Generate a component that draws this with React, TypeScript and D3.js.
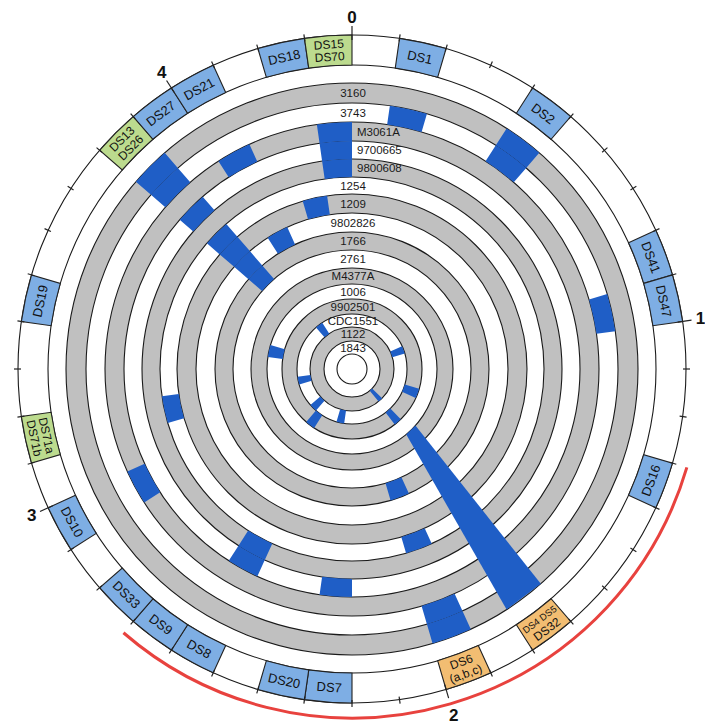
import React from "react";
import * as d3 from "d3";

const W = 705;
const H = 726;
const CX = 352;
const CY = 369;

// genome axis (Mb), 0.1 Mb bins
const GENOME_MB = 4.4;
const BIN_MB = 0.1;
const majorTicks = [0, 1, 2, 3, 4];

// strains, outer ring to inner ring
const strains = [
  "3160", "3743", "M3061A", "9700665", "9800608", "1254", "1209", "9802826",
  "1766", "2761", "M4377A", "1006", "9902501", "CDC1551", "1122", "1843",
];
// outer radius of each ring (last value = central hole)
const ringEdges = [286, 266, 247, 228, 210, 192, 175, 156, 137, 119, 101, 85, 70, 55, 42, 28, 15];

// DS regions on the outer band (start Mb of bin)
const dsStart = [0.1, 0.4, 0.8, 0.9, 1.3, 1.7, 1.9, 2.2, 2.3, 2.5, 2.6, 2.7, 2.9, 3.1, 3.4, 3.8, 3.9, 4.0, 4.2, 4.3];
const dsNames = [
  ["DS1"], ["DS2"], ["DS41"], ["DS47"], ["DS16"], ["DS4 DS5", "DS32"], ["DS6", "(a,b,c)"],
  ["DS7"], ["DS20"], ["DS8"], ["DS9"], ["DS33"], ["DS10"], ["DS71a", "DS71b"], ["DS19"],
  ["DS13", "DS26"], ["DS27"], ["DS21"], ["DS18"], ["DS15", "DS70"],
];
const dsGroup = [
  "blue", "blue", "blue", "blue", "blue", "orange", "orange", "blue", "blue", "blue",
  "blue", "blue", "blue", "green", "blue", "green", "blue", "blue", "blue", "green",
];

// deletions: strain, start Mb, end Mb
const deletions: [string, number, number][] = [
  ["3743", 0.1, 0.2],
  ["M3061A", 4.3, 4.4], ["9700665", 4.3, 4.4], ["9800608", 4.3, 4.4],
  ["3160", 0.4, 0.5], ["3743", 0.4, 0.5],
  ["3160", 3.8, 3.9], ["3743", 3.8, 3.9],
  ["M3061A", 4.0, 4.1],
  ["9700665", 3.8, 3.9],
  ["1254", 3.8, 3.9], ["1209", 3.8, 3.9], ["9802826", 3.8, 3.9], ["1766", 3.8, 3.9],
  ["3743", 0.9, 1.0],
  ["1209", 4.2, 4.3],
  ["9802826", 4.0, 4.1],
  ["1254", 3.1, 3.2],
  ["M3061A", 2.9, 3.0],
  ["9800608", 2.5, 2.6], ["9700665", 2.5, 2.6],
  ["9700665", 2.2, 2.3],
  ["1766", 1.9, 2.0], ["1254", 1.9, 2.0], ["3160", 1.9, 2.0], ["3743", 1.9, 2.0],
  ["CDC1551", 3.9, 4.0], ["CDC1551", 0.8, 0.9], ["CDC1551", 3.1, 3.2],
  ["CDC1551", 2.7, 2.8], ["CDC1551", 2.3, 2.4],
  ["1006", 3.4, 3.5],
  ["9902501", 1.3, 1.4], ["9902501", 2.6, 2.7], ["9902501", 1.66, 1.74],
  ["1122", 1.64, 1.72],
];

// slanted deletion crossing rings M4377A .. 3160
const wedgeStrains = ["M4377A", "3160"];
const wedgeInnerMb = [1.61, 1.715];
const wedgeOuterMb = [1.695, 1.8];

// highlighted region
const redArcMb = [1.3, 2.7];

const COLORS: Record<string, string> = {
  blue: "#7eaee4",
  green: "#bcdb8e",
  orange: "#f2bd72",
};

const angle = d3.scaleLinear().domain([0, GENOME_MB]).range([0, 2 * Math.PI]);

function pt(r: number, a: number): [number, number] {
  return [CX + r * Math.sin(a), CY - r * Math.cos(a)];
}

const DS_IN = 304;
const DS_OUT = 334;
const FONT = "Liberation Sans, Arial, sans-serif";

export default function App() {
  const arc = d3.arc<any>();
  const ringOuter = (i: number) => ringEdges[i];
  const ringInner = (i: number) => ringEdges[i + 1];

  const greyRings = strains.map((s, i) =>
    i % 2 === 0 ? (
      <path
        key={"g" + s}
        d={arc({ innerRadius: ringInner(i), outerRadius: ringOuter(i), startAngle: 0, endAngle: 2 * Math.PI }) || ""}
        fill="#c0c0c0"
      />
    ) : null
  );

  const circles = ringEdges.map((r, i) => (
    <circle key={"c" + i} cx={0} cy={0} r={r} fill="none" stroke="#1a1a1a" strokeWidth={1.1} />
  ));

  const blocks = deletions.map(([s, a0, a1], k) => {
    const i = strains.indexOf(s);
    return (
      <path
        key={"b" + k}
        d={arc({ innerRadius: ringInner(i), outerRadius: ringOuter(i), startAngle: angle(a0), endAngle: angle(a1) }) || ""}
        fill="#1f5ec6"
      />
    );
  });

  const wi = strains.indexOf(wedgeStrains[0]);
  const wo = strains.indexOf(wedgeStrains[1]);
  const rIn = ringInner(wi);
  const rOut = ringOuter(wo);
  const wedgePts = [
    pt(rIn, angle(wedgeInnerMb[0])),
    pt(rOut, angle(wedgeOuterMb[0])),
    pt(rOut, angle(wedgeOuterMb[1])),
    pt(rIn, angle(wedgeInnerMb[1])),
  ];
  const wedgePath = d3.line()(wedgePts) + "Z";

  const labels = strains.map((s, i) => {
    const rc = (ringOuter(i) + ringInner(i)) / 2;
    const coversTop = deletions.some(([st, , a1]) => st === s && a1 >= GENOME_MB - 0.001);
    return (
      <text
        key={"l" + s}
        x={coversTop ? CX + 5 : CX + 1}
        y={CY - rc}
        textAnchor={coversTop ? "start" : "middle"}
        dominantBaseline="central"
        fontFamily={FONT}
        fontSize={11.5}
        fill="#1a1a1a"
      >
        {s}
      </text>
    );
  });

  const dsBoxes = dsStart.map((st, k) => {
    const a0 = angle(st);
    const a1 = angle(st + BIN_MB);
    const am = (a0 + a1) / 2;
    const deg = (am * 180) / Math.PI;
    const rot = deg > 90 && deg < 270 ? deg - 180 : deg > 270 ? deg - 360 : deg;
    const [tx, ty] = pt((DS_IN + DS_OUT) / 2, am);
    const lines = dsNames[k];
    const small = lines[0].length > 5;
    const fs = lines.length > 1 ? 12 : 13;
    const lh = 12.5;
    return (
      <g key={"ds" + k}>
        <path
          transform={`translate(${CX},${CY})`}
          d={arc({ innerRadius: DS_IN, outerRadius: DS_OUT, startAngle: a0, endAngle: a1 }) || ""}
          fill={COLORS[dsGroup[k]]}
          stroke="#222"
          strokeWidth={1.1}
        />
        <g transform={`translate(${tx},${ty}) rotate(${rot})`}>
          {lines.map((ln, j) => (
            <text
              key={j}
              x={0}
              y={(j - (lines.length - 1) / 2) * lh}
              textAnchor="middle"
              dominantBaseline="central"
              fontFamily={FONT}
              fontSize={small && j === 0 ? 9.5 : fs}
              fill="#111"
            >
              {ln}
            </text>
          ))}
        </g>
      </g>
    );
  });

  const nBins = Math.round(GENOME_MB / BIN_MB);
  const ticks = d3.range(nBins).map((i) => {
    const a = angle(i * BIN_MB);
    const major = i % 10 === 0;
    const [x0, y0] = pt(major ? 329 : 331, a);
    const [x1, y1] = pt(major ? 343 : 338, a);
    return <line key={"t" + i} x1={x0} y1={y0} x2={x1} y2={y1} stroke="#222" strokeWidth={1.2} />;
  });

  const axisLabels = majorTicks.map((m) => {
    const a = angle(m);
    const inRed = m >= redArcMb[0] && m <= redArcMb[1];
    const [x, y] = pt(inRed ? 361 : 352, a);
    return (
      <text
        key={"m" + m}
        x={x}
        y={y}
        textAnchor="middle"
        dominantBaseline="central"
        fontFamily={FONT}
        fontWeight="bold"
        fontSize={17}
        fill="#111"
      >
        {m}
      </text>
    );
  });

  const rp = d3.path();
  rp.arc(CX, CY, 349, angle(redArcMb[0]) - Math.PI / 2, angle(redArcMb[1]) - Math.PI / 2);

  return (
    <svg
      width={W}
      height={H}
      viewBox={`0 0 ${W} ${H}`}
      style={{ position: "absolute", left: 0, top: 0, background: "#fff" }}
    >
      <rect width={W} height={H} fill="#fff" />
      <g transform={`translate(${CX},${CY})`}>
        {greyRings}
        {circles}
        {blocks}
      </g>
      <path d={wedgePath} fill="#1f5ec6" />
      {labels}
      <circle cx={CX} cy={CY} r={DS_OUT} fill="none" stroke="#1a1a1a" strokeWidth={1.1} />
      <circle cx={CX} cy={CY} r={DS_IN} fill="none" stroke="#1a1a1a" strokeWidth={1.1} />
      {dsBoxes}
      {ticks}
      {axisLabels}
      <path d={rp.toString()} fill="none" stroke="#e8423e" strokeWidth={3} />
    </svg>
  );
}
